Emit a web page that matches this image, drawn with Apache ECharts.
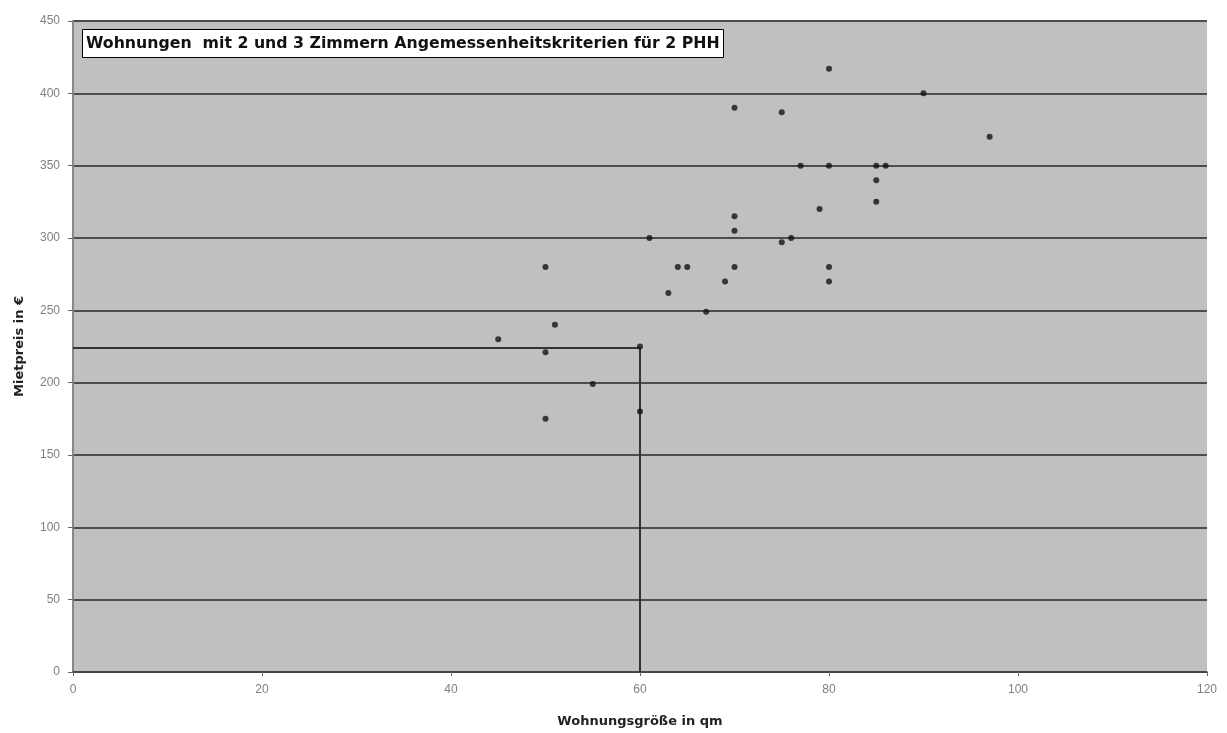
<!DOCTYPE html>
<html>
<head>
<meta charset="utf-8">
<script src="https://cdn.jsdelivr.net/npm/echarts@6/dist/echarts.min.js"></script>
<style>
  html, body { margin: 0; padding: 0; background: #ffffff; }
  #chart { width: 1227px; height: 733px; }
</style>
</head>
<body>
<div id="chart"></div>
<script>
// Wohnungsgröße (qm) und Mietpreis (€) je Wohnung
const flaeche = [45, 50, 50, 50, 51, 55, 60, 60, 61, 63, 64, 65, 67, 69, 70, 70, 70, 70,
                 75, 75, 76, 77, 79, 80, 80, 80, 80, 85, 85, 85, 86, 90, 97];
const miete   = [230, 280, 221, 175, 240, 199, 225, 180, 300, 262, 280, 280, 249, 270, 390, 315, 305, 280,
                 387, 297, 300, 350, 320, 417, 350, 280, 270, 350, 340, 325, 350, 400, 370];

// Angemessenheitsgrenze: 60 qm / 224 €
const grenzeX = [0, 60, 60];
const grenzeY = [224, 224, 0];

const chart = echarts.init(document.getElementById("chart"));

const font = "Liberation Sans, Arial, sans-serif";
const boldFont = "DejaVu Sans, sans-serif";

const option = {
  backgroundColor: "#ffffff",
  animation: false,
  title: {
    text: "Wohnungen  mit 2 und 3 Zimmern Angemessenheitskriterien für 2 PHH",
    left: 82,
    top: 29,
    backgroundColor: "#ffffff",
    borderColor: "#000000",
    borderWidth: 1,
    padding: [7, 4, 6, 4],
    textStyle: { fontFamily: boldFont, fontSize: 15.75, fontWeight: "bold", color: "#111" },
  },
  grid: {
    left: 73,
    right: 20,
    top: 21,
    bottom: 61,
    outerBoundsMode: "none",
    show: true,
    backgroundColor: "#c0c0c0",
    borderWidth: 0,
  },
  xAxis: {
    type: "value",
    min: 0,
    max: 120,
    interval: 20,
    name: "Wohnungsgröße in qm",
    nameLocation: "middle",
    nameGap: 43,
    nameTextStyle: { fontFamily: boldFont, fontSize: 13, fontWeight: "bold", color: "#222" },
    axisLine: { lineStyle: { color: "#444", width: 1.5 } },
    axisTick: { show: true, length: 4, lineStyle: { color: "#666" } },
    axisLabel: { fontFamily: font, fontSize: 12, color: "#808080", margin: 12 },
    splitLine: { show: false },
  },
  yAxis: {
    type: "value",
    min: 0,
    max: 450,
    interval: 50,
    name: "Mietpreis in €",
    nameLocation: "middle",
    nameGap: 47,
    nameTextStyle: { fontFamily: boldFont, fontSize: 13, fontWeight: "bold", color: "#222" },
    axisLine: { show: true, lineStyle: { color: "#888", width: 2 } },
    axisTick: { show: true, length: 5, lineStyle: { color: "#666" } },
    axisLabel: { fontFamily: font, fontSize: 12, color: "#808080", margin: 13 },
    splitLine: { show: true, lineStyle: { color: "#4d4d4d", width: 2 } },
  },
  series: [
    {
      name: "Grenze",
      type: "line",
      data: grenzeX.map((x, i) => [x, grenzeY[i]]),
      symbol: "none",
      lineStyle: { color: "#333", width: 2 },
      z: 3,
    },
    {
      name: "Wohnungen",
      type: "scatter",
      data: flaeche.map((x, i) => [x, miete[i]]),
      symbol: "circle",
      symbolSize: 6,
      itemStyle: { color: "#111118" },
      z: 4,
    },
  ],
};

chart.setOption(option);
</script>
</body>
</html>
